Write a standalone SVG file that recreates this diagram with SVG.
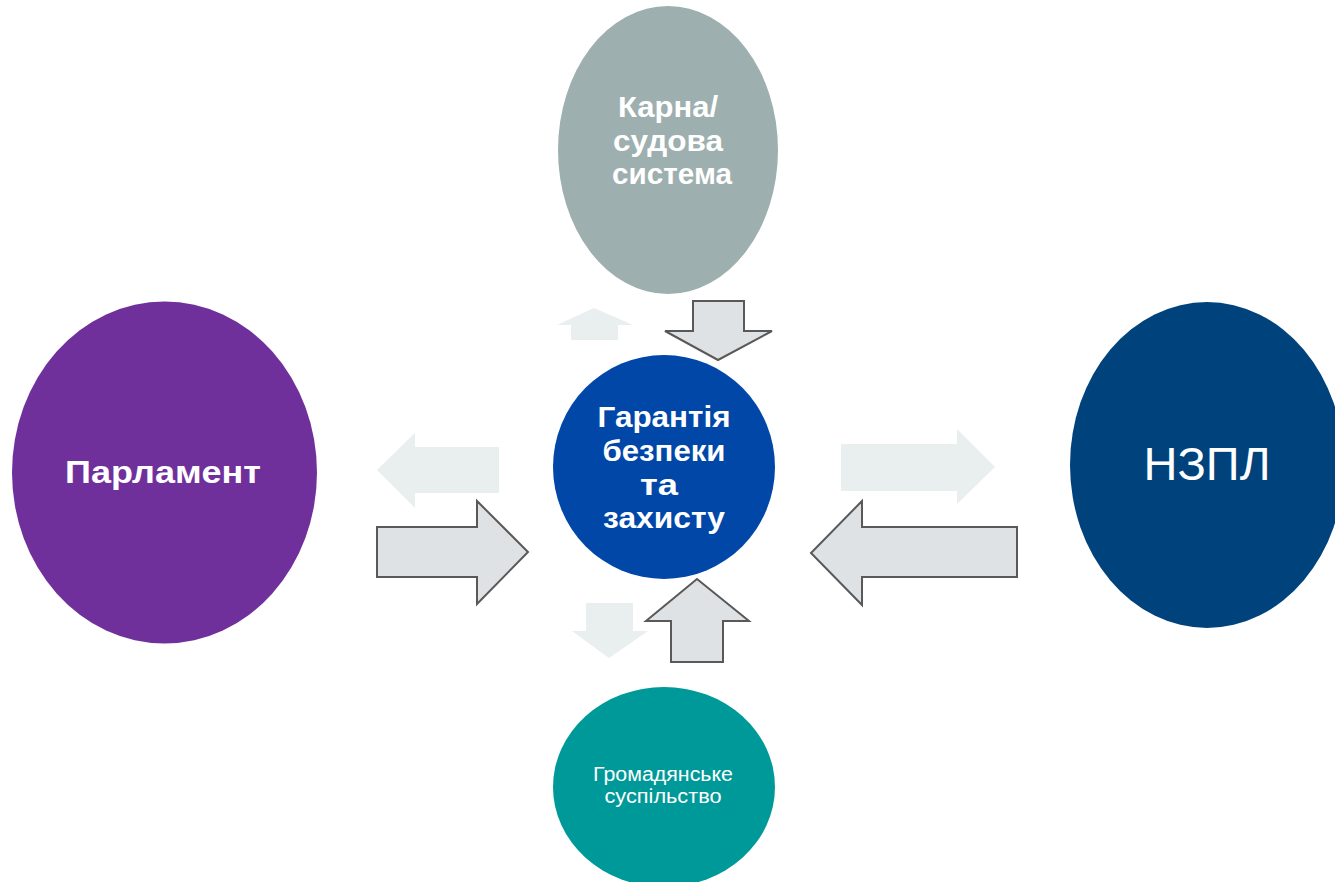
<svg xmlns="http://www.w3.org/2000/svg" width="1335" height="882" viewBox="0 0 1335 882">
<style>
.t{font-family:"Liberation Sans",Arial,sans-serif;fill:#ffffff;text-anchor:middle}
.b{font-weight:bold}
.arr{fill:#dee2e4;stroke:#595959;stroke-width:2;stroke-linejoin:miter}
.faint{fill:#e9eeee;stroke:none}
</style>
<rect width="1335" height="882" fill="#ffffff"/>
<g id="connectors">
<polygon class="faint" points="571,340 571,325 557,325 594,308 633,325 618,325 618,340"/>
<polygon class="arr" points="693,301 744,301 744,331 772,331 718,360 665,331 693,331"/>
<polygon class="faint" points="499,447 499,493 415,493 415,508 377,470 415,433 415,447"/>
<polygon class="arr" points="377,527 477,527 477,501 528,552 477,604 477,577 377,577"/>
<polygon class="faint" points="841,444 957,444 957,429 995,467 957,504 957,491 841,491"/>
<polygon class="arr" points="1017,527 862,527 862,501 811,553 862,605 862,577 1017,577"/>
<polygon class="faint" points="586,603 633,603 633,631 648,631 609,658 572,631 586,631"/>
<polygon class="arr" points="671,662 723,662 723,621 749,621 697,579 646,621 671,621"/>
</g>
<g id="node-top">
<ellipse cx="668" cy="150" rx="110" ry="144" fill="#9eafaf"/>
<text class="t b" x="668" y="117" font-size="29" textLength="100" lengthAdjust="spacingAndGlyphs">Карна/</text>
<text class="t b" x="668" y="151" font-size="29" textLength="110" lengthAdjust="spacingAndGlyphs">судова</text>
<text class="t b" x="672" y="184" font-size="29" textLength="120" lengthAdjust="spacingAndGlyphs">система</text>
</g>
<g id="node-left">
<ellipse cx="164.5" cy="472.5" rx="152.5" ry="171" fill="#70309c"/>
<text class="t b" x="163" y="483" font-size="32" textLength="196" lengthAdjust="spacingAndGlyphs">Парламент</text>
</g>
<g id="node-center">
<ellipse cx="664" cy="467" rx="111" ry="112" fill="#0047a8"/>
<text class="t b" x="664" y="427" font-size="29" textLength="133" lengthAdjust="spacingAndGlyphs">Гарантія</text>
<text class="t b" x="664" y="461" font-size="29" textLength="123" lengthAdjust="spacingAndGlyphs">безпеки</text>
<text class="t b" x="659" y="495" font-size="29" textLength="38" lengthAdjust="spacingAndGlyphs">та</text>
<text class="t b" x="664" y="528" font-size="29" textLength="122" lengthAdjust="spacingAndGlyphs">захисту</text>
</g>
<g id="node-right">
<ellipse cx="1207" cy="465" rx="137" ry="163" fill="#00437c"/>
<text class="t" x="1207" y="480" font-size="47">НЗПЛ</text>
</g>
<g id="node-bottom">
<ellipse cx="664" cy="787" rx="111" ry="100" fill="#009999"/>
<text class="t" x="663" y="781" font-size="20" textLength="140" lengthAdjust="spacingAndGlyphs">Громадянське</text>
<text class="t" x="663" y="803" font-size="20" textLength="117" lengthAdjust="spacingAndGlyphs">суспільство</text>
</g>
</svg>
